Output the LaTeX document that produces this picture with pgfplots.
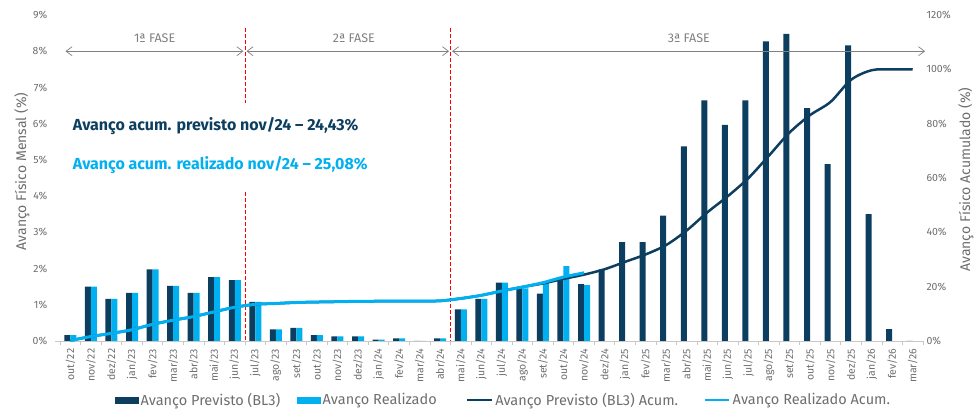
\documentclass[border=0pt]{standalone}
\usepackage{pgfplots}
\pgfplotsset{compat=1.18}
\usepackage{fontspec}
\setmainfont{Fira Sans}
\usetikzlibrary{arrows.meta}
\definecolor{dkblue}{RGB}{12,62,96}
\definecolor{ltblue}{RGB}{0,176,240}
\definecolor{txtgray}{RGB}{110,110,110}
\definecolor{phgray}{RGB}{128,128,128}
\definecolor{axgray}{RGB}{200,200,200}
\begin{document}
\begin{tikzpicture}
\pgfplotsset{
  base/.style={
    scale only axis, width=868pt, height=326pt,
    at={(55pt,68pt)}, anchor=south west,
    xmin=-0.75, xmax=41.5,
    clip=false,
    /pgf/number format/assume math mode=true,
    tick label style={font=\fontsize{10.5}{11}\selectfont, text=txtgray},
    label style={font=\fontsize{14}{15}\selectfont, text=txtgray},
  }
}
\begin{axis}[base,
  ymin=0, ymax=9, ytick={0,...,9},
  yticklabel={\pgfmathprintnumber{\tick}\%},
  axis x line*=bottom, axis y line*=left,
  y axis line style={draw=none},
  x axis line style={draw=axgray, line width=0.8pt},
  ytick style={draw=none},
  xtick={0,...,41},
  xticklabels={out/22,nov/22,dez/22,jan/23,fev/23,mar/23,abr/23,mai/23,jun/23,jul/23,ago/23,set/23,out/23,nov/23,dez/23,jan/24,fev/24,mar/24,abr/24,mai/24,jun/24,jul/24,ago/24,set/24,out/24,nov/24,dez/24,jan/25,fev/25,mar/25,abr/25,mai/25,jun/25,jul/25,ago/25,set/25,out/25,nov/25,dez/25,jan/26,fev/26,mar/26},
  major x tick style={draw=none},
  minor xtick={-0.5,0.5,...,41.5},
  minor x tick style={draw=axgray, line width=0.8pt},
  minor tick length=4pt,
  tick align=outside,
  xticklabel style={rotate=90, anchor=east},
  ylabel={Avanço Físico Mensal (\%)},
  ylabel style={at={(axis description cs:-0.038,0.52)}, anchor=center},
  ybar=0pt, bar width=6pt,
]
\addplot[fill=dkblue, draw=none] coordinates {
(0,0.16) (1,1.50) (2,1.16) (3,1.33) (4,1.98) (5,1.52) (6,1.33) (7,1.76) (8,1.68) (9,1.08)
(10,0.32) (11,0.36) (12,0.16) (13,0.13) (14,0.13) (15,0.04) (16,0.07) (17,0) (18,0.07) (19,0.87)
(20,1.16) (21,1.61) (22,1.45) (23,1.31) (24,1.68) (25,1.57) (26,1.98) (27,2.73) (28,2.73) (29,3.46)
(30,5.37) (31,6.64) (32,5.97) (33,6.64) (34,8.27) (35,8.48) (36,6.43) (37,4.88) (38,8.16) (39,3.50)
(40,0.33) (41,0)
};
\addplot[fill=ltblue, draw=none] coordinates {
(0,0.16) (1,1.50) (2,1.16) (3,1.33) (4,1.98) (5,1.52) (6,1.33) (7,1.76) (8,1.68) (9,1.08)
(10,0.32) (11,0.36) (12,0.16) (13,0.13) (14,0.13) (15,0.04) (16,0.07) (17,0) (18,0.07) (19,0.87)
(20,1.16) (21,1.61) (22,1.45) (23,1.60) (24,2.07) (25,1.54)
};
\draw[red, line width=0.9pt, dash pattern=on 4pt off 2pt] (axis cs:8.5,8.65) -- (axis cs:8.5,6.57);
\draw[red, line width=0.9pt, dash pattern=on 4pt off 2pt] (axis cs:8.5,4.12) -- (axis cs:8.5,0);
\draw[red, line width=0.9pt, dash pattern=on 4pt off 2pt] (axis cs:18.5,8.65) -- (axis cs:18.5,0);
\draw[phgray, line width=0.7pt, {Straight Barb[length=6pt,width=9pt]}-{Straight Barb[length=6pt,width=9pt]}] (axis cs:-0.24,8) -- (axis cs:8.42,8);
\draw[phgray, line width=0.7pt, {Straight Barb[length=6pt,width=9pt]}-{Straight Barb[length=6pt,width=9pt]}] (axis cs:8.57,8) -- (axis cs:18.43,8);
\draw[phgray, line width=0.7pt, {Straight Barb[length=6pt,width=9pt]}-{Straight Barb[length=6pt,width=9pt]}] (axis cs:18.58,8) -- (axis cs:41.6,8);
\node[text=phgray, font=\fontsize{12.5}{13}\selectfont] at (axis cs:4.1,8.37) {1ª FASE};
\node[text=phgray, font=\fontsize{12.5}{13}\selectfont] at (axis cs:13.8,8.37) {2ª FASE};
\node[text=phgray, font=\fontsize{12.5}{13}\selectfont] at (axis cs:30.1,8.37) {3ª FASE};
\node[anchor=west, text=dkblue, font=\fontsize{16}{17}\selectfont\bfseries] at (axis cs:-0.05,5.92) {Avanço acum. previsto nov/24 – 24,43\%};
\node[anchor=west, text=ltblue, font=\fontsize{16}{17}\selectfont\bfseries] at (axis cs:-0.05,4.86) {Avanço acum. realizado nov/24 – 25,08\%};
\end{axis}
\begin{axis}[base,
  ymin=0, ymax=120, ytick={0,20,...,120},
  yticklabel={\pgfmathprintnumber{\tick}\%},
  axis x line=none, axis y line*=right,
  y axis line style={draw=none}, ytick style={draw=none},
  ylabel={Avanço Físico Acumulado (\%)},
  ylabel style={at={(axis description cs:1.0495,0.495)}, anchor=center},
  legend style={at={(axis description cs:0.0691,-0.181)}, anchor=west, legend columns=4, draw=none, fill=none,
    font=\fontsize{14.5}{15}\selectfont, text=txtgray, inner sep=0pt,
    /tikz/every odd column/.append style={column sep=0pt},
    /tikz/column 2/.append style={column sep=15pt},
    /tikz/column 4/.append style={column sep=27pt},
    /tikz/column 6/.append style={column sep=24pt}},
]
\addlegendimage{legend image code/.code={\fill[dkblue] (0pt,-3pt) rectangle (23pt,3pt);}}
\addlegendimage{legend image code/.code={\fill[ltblue] (0pt,-3pt) rectangle (23pt,3pt);}}
\addlegendimage{legend image code/.code={\draw[dkblue, line width=2.5pt] (0pt,0pt) -- (25pt,0pt);}}
\addlegendimage{legend image code/.code={\draw[ltblue, line width=2.5pt] (0pt,0pt) -- (24pt,0pt);}}
\legend{Avanço Previsto (BL3), Avanço Realizado, Avanço Previsto (BL3) Acum., Avanço Realizado Acum.}
\addplot[dkblue, line width=2.5pt, smooth, forget plot] coordinates {
(0,0.16) (1,1.66) (2,2.82) (3,4.15) (4,6.13) (5,7.65) (6,8.98) (7,10.74) (8,12.42) (9,13.50)
(10,13.82) (11,14.18) (12,14.34) (13,14.47) (14,14.60) (15,14.64) (16,14.71) (17,14.71) (18,14.78) (19,15.65)
(20,16.81) (21,18.42) (22,19.87) (23,21.18) (24,22.86) (25,24.43) (26,26.41) (27,29.14) (28,31.87) (29,35.33)
(30,40.70) (31,47.34) (32,53.31) (33,59.95) (34,68.22) (35,76.70) (36,83.13) (37,88.01) (38,96.17) (39,99.67)
(40,100.00) (41,100.00)
};
\addplot[ltblue, line width=3pt, smooth, forget plot] coordinates {
(0,0.16) (1,1.66) (2,2.82) (3,4.15) (4,6.13) (5,7.65) (6,8.98) (7,10.74) (8,12.42) (9,13.50)
(10,13.82) (11,14.18) (12,14.34) (13,14.47) (14,14.60) (15,14.64) (16,14.71) (17,14.71) (18,14.78) (19,15.65)
(20,16.81) (21,18.42) (22,19.87) (23,21.47) (24,23.54) (25,25.08)
};
\end{axis}
\pgfresetboundingbox
\useasboundingbox (0,0) rectangle (979pt,409pt);
\end{tikzpicture}
\end{document}
